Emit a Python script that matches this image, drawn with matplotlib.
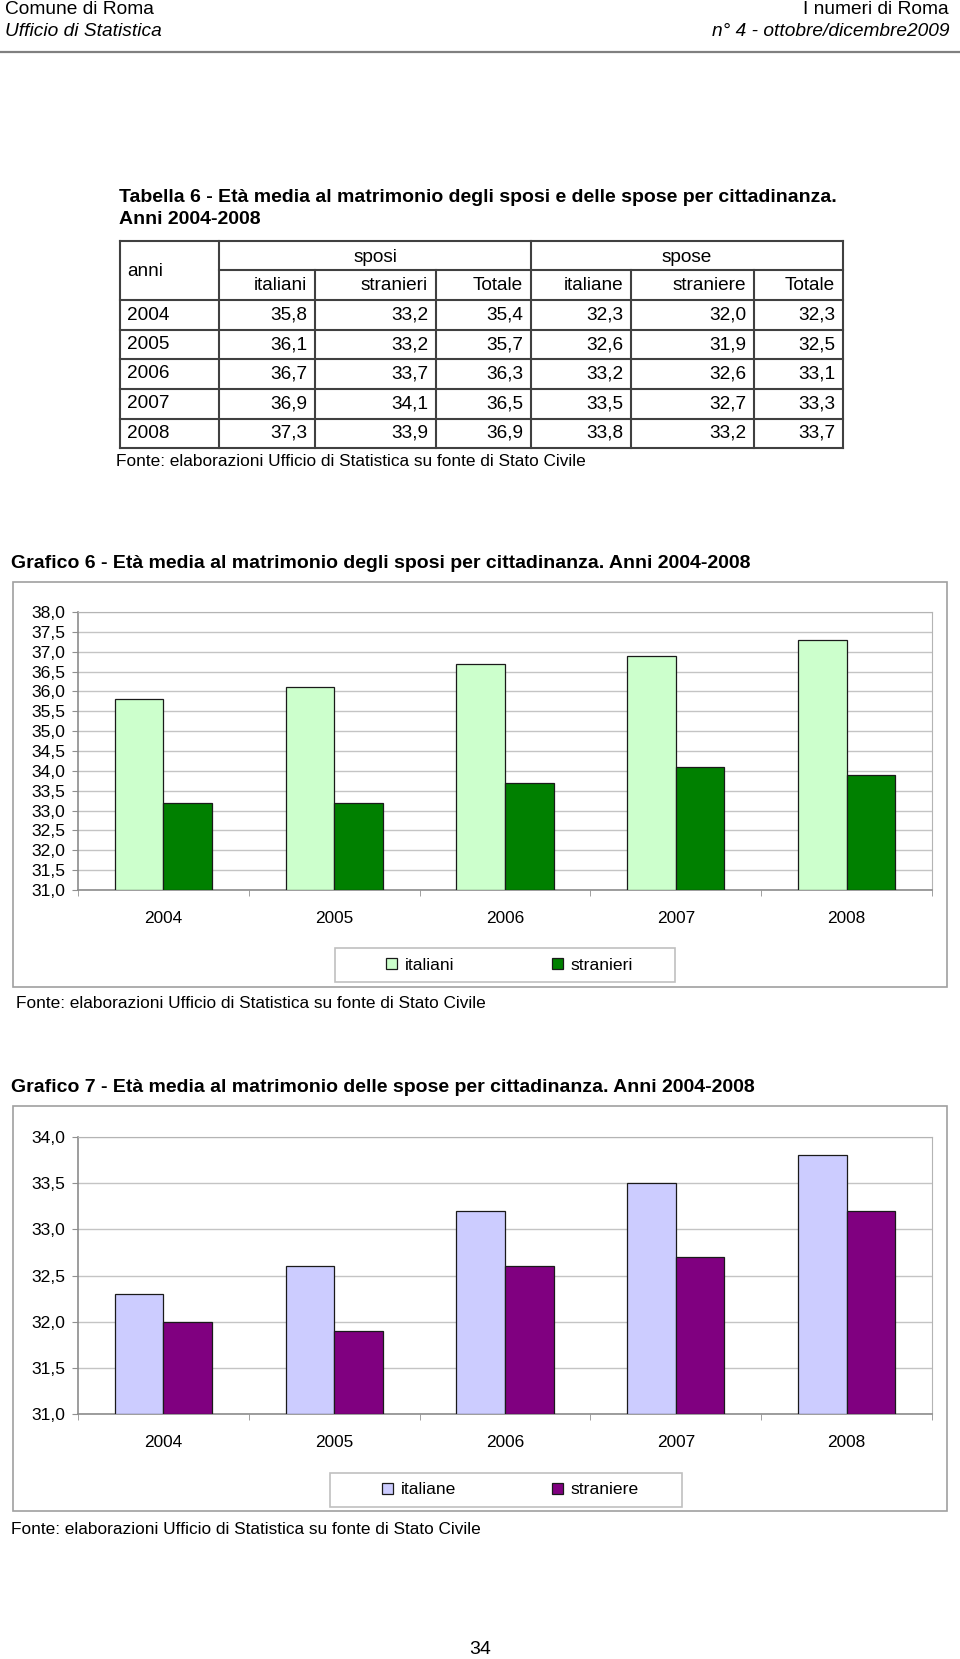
import numpy as np
import matplotlib
matplotlib.use("Agg")
import matplotlib.pyplot as plt
from matplotlib.patches import Rectangle
from matplotlib.lines import Line2D
from matplotlib.ticker import FuncFormatter, MultipleLocator, FixedLocator

plt.rcParams['font.family'] = ['Liberation Sans', 'DejaVu Sans']

# data
anni = ['2004', '2005', '2006', '2007', '2008']
sposi_italiani = [35.8, 36.1, 36.7, 36.9, 37.3]
sposi_stranieri = [33.2, 33.2, 33.7, 34.1, 33.9]
sposi_totale = [35.4, 35.7, 36.3, 36.5, 36.9]
spose_italiane = [32.3, 32.6, 33.2, 33.5, 33.8]
spose_straniere = [32.0, 31.9, 32.6, 32.7, 33.2]
spose_totale = [32.3, 32.5, 33.1, 33.3, 33.7]
sottotitoli = ['italiani', 'stranieri', 'Totale', 'italiane', 'straniere', 'Totale']
fonte = 'Fonte: elaborazioni Ufficio di Statistica su fonte di Stato Civile'

W, H = 960, 1659
fig = plt.figure(figsize=(W / 100, H / 100), dpi=100)


def fx(x):
    return x / W


def fy(y):
    return 1 - y / H


def txt(x, y, s, **kw):
    kw.setdefault('va', 'center')
    kw.setdefault('fontsize', 13.7)
    fig.text(fx(x), fy(y), s, **kw)


def hline(x0, x1, y, c='#404040', lw=1.5):
    fig.add_artist(Line2D([fx(x0), fx(x1)], [fy(y), fy(y)], color=c, lw=lw,
                          transform=fig.transFigure))


def vline(x, y0, y1, c='#404040', lw=1.5):
    fig.add_artist(Line2D([fx(x), fx(x)], [fy(y0), fy(y1)], color=c, lw=lw,
                          transform=fig.transFigure))


def box(x0, y0, x1, y1, ec='#a0a0a0', lw=1.2):
    fig.add_artist(Rectangle((fx(x0), fy(y1)), fx(x1) - fx(x0), fy(y0) - fy(y1),
                             transform=fig.transFigure, fill=False, ec=ec, lw=lw))


def virgola(v, pos=None):
    return f"{v:.1f}".replace('.', ',')


# header
txt(5, 9, 'Comune di Roma', fontsize=13.8)
txt(5, 32, 'Ufficio di Statistica', style='italic', fontsize=13.8)
txt(949, 9, 'I numeri di Roma', ha='right', fontsize=13.8)
txt(949, 32, 'n° 4 - ottobre/dicembre2009', ha='right', style='italic', fontsize=13.8)
hline(0, 960, 52, c='#808080', lw=1.6)

# tabella
txt(119, 198, 'Tabella 6 - Età media al matrimonio degli sposi e delle spose per cittadinanza.',
    fontweight='bold', fontsize=14)
txt(119, 220, 'Anni 2004-2008', fontweight='bold', fontsize=14)

col_x = [120, 219, 315, 436, 531, 631, 754, 843]
row_y = [241, 270, 300, 330, 359, 389, 419, 448]
hline(col_x[0], col_x[-1], row_y[0])
hline(col_x[1], col_x[-1], row_y[1])
for y in row_y[2:]:
    hline(col_x[0], col_x[-1], y)
for x in [col_x[0], col_x[1], col_x[4], col_x[-1]]:
    vline(x, row_y[0], row_y[-1])
for x in [col_x[2], col_x[3], col_x[5], col_x[6]]:
    vline(x, row_y[1], row_y[-1])

txt(127, 272, 'anni')
txt((col_x[1] + col_x[4]) / 2, 257, 'sposi', ha='center')
txt((col_x[4] + col_x[7]) / 2, 257, 'spose', ha='center')
for j, s in enumerate(sottotitoli):
    txt(col_x[j + 2] - 8, 286, s, ha='right')
colonne = [sposi_italiani, sposi_stranieri, sposi_totale,
           spose_italiane, spose_straniere, spose_totale]
for i, a in enumerate(anni):
    yc = (row_y[i + 2] + row_y[i + 3]) / 2
    txt(127, yc, a)
    for j, col in enumerate(colonne):
        txt(col_x[j + 2] - 8, yc, virgola(col[i]), ha='right')
txt(116, 461, fonte, fontsize=12.4)


def grafico(area, ylim, serie, nomi, colori, leg_box, leg_x):
    x0, y0, x1, y1 = area
    ax = fig.add_axes([fx(x0), fy(y1), fx(x1) - fx(x0), fy(y0) - fy(y1)])
    pos = np.arange(len(anni))
    w = 0.284
    bars = []
    for k, (vals, c) in enumerate(zip(serie, colori)):
        b = ax.bar(pos + (k - 0.5) * w, np.array(vals) - ylim[0], width=w,
                   bottom=ylim[0], color=c, edgecolor='#1a1a1a', lw=0.9, zorder=3)
        bars.append(b)
    ax.set_xlim(-0.5, len(anni) - 0.5)
    ax.set_ylim(*ylim)
    ax.yaxis.set_major_locator(MultipleLocator(0.5))
    ax.yaxis.set_major_formatter(FuncFormatter(virgola))
    ax.yaxis.grid(True, color='#c4c4c4', lw=1, zorder=0)
    ax.set_xticks(pos)
    ax.set_xticklabels(anni)
    ax.xaxis.set_minor_locator(FixedLocator(np.arange(-0.5, len(anni), 1.0)))
    ax.tick_params(axis='x', which='major', length=0, pad=15, labelsize=12.4)
    ax.tick_params(axis='x', which='minor', length=4.3, color='#909090')
    ax.tick_params(axis='y', length=4.3, color='#909090', labelsize=12.6, pad=5)
    for s in ['top', 'right']:
        ax.spines[s].set_color('#b4b4b4')
    for s in ['left', 'bottom']:
        ax.spines[s].set_color('#8c8c8c')
        ax.spines[s].set_lw(1.2)
    # legenda
    lx0, ly0, lx1, ly1 = leg_box
    box(lx0, ly0, lx1, ly1, ec='#c0c0c0', lw=1.2)
    for b, nome, xl in zip(bars, nomi, leg_x):
        fig.legend([b], [nome], loc='center left', frameon=False,
                   bbox_to_anchor=(fx(xl), fy((ly0 + ly1) / 2)), fontsize=12.6,
                   handlelength=0.65, handleheight=0.65, handletextpad=0.4,
                   borderpad=0, borderaxespad=0)
    return ax


# grafico 6
txt(11, 563, 'Grafico 6 - Età media al matrimonio degli sposi per cittadinanza. Anni 2004-2008',
    fontweight='bold', fontsize=14)
box(13, 582, 947, 987)
grafico((78, 612, 932, 890), (31, 38), [sposi_italiani, sposi_stranieri],
        ['italiani', 'stranieri'], ['#ccffcc', '#008000'],
        (335, 948, 675, 982), [386, 552])
txt(16, 1004, fonte, fontsize=12.4)

# grafico 7
txt(11, 1087, 'Grafico 7 - Età media al matrimonio delle spose per cittadinanza. Anni 2004-2008',
    fontweight='bold', fontsize=14)
box(13, 1106, 947, 1511)
grafico((78, 1137, 932, 1414), (31, 34), [spose_italiane, spose_straniere],
        ['italiane', 'straniere'], ['#ccccff', '#800080'],
        (330, 1473, 682, 1507), [382, 552])
txt(11, 1530, fonte, fontsize=12.4)

txt(480, 1649, '34', ha='center', fontsize=14)

fig.savefig('out.png', dpi=100)
